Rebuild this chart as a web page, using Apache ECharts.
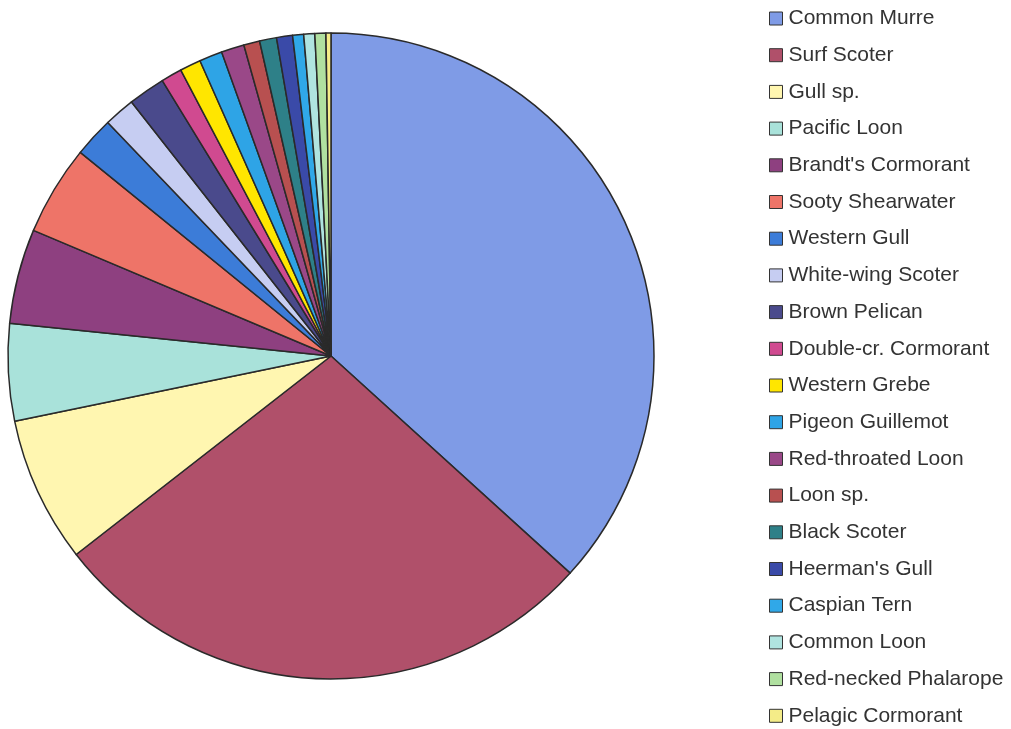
<!DOCTYPE html>
<html>
<head>
<meta charset="utf-8">
<script src="https://cdn.jsdelivr.net/npm/echarts@6/dist/echarts.min.js"></script>
<style>
  html, body { margin: 0; padding: 0; background: #fff; }
  #chart { width: 1011px; height: 729px; }
</style>
</head>
<body>
<div id="chart"></div>
<script>
// species and their shares of the pie (percent)
var species = ['Common Murre', 'Surf Scoter', 'Gull sp.', 'Pacific Loon', "Brandt's Cormorant",
  'Sooty Shearwater', 'Western Gull', 'White-wing Scoter', 'Brown Pelican', 'Double-cr. Cormorant',
  'Western Grebe', 'Pigeon Guillemot', 'Red-throated Loon', 'Loon sp.', 'Black Scoter',
  "Heerman's Gull", 'Caspian Tern', 'Common Loon', 'Red-necked Phalarope', 'Pelagic Cormorant']
var shares = [36.75, 27.75, 7.3, 4.85, 4.75,
  4.5, 2.0, 1.55, 1.85, 1.05,
  1.05, 1.15, 1.15, 0.8, 0.85,
  0.8, 0.55, 0.55, 0.55, 0.25]
var colors = ['#7f9be6', '#b0506a', '#fff6b0', '#a9e2da', '#8e4080',
  '#ee7468', '#3c7cd8', '#c6cdf2', '#4a4a8c', '#d04a90',
  '#ffe600', '#2ea4e6', '#9a4888', '#b85050', '#2e8088',
  '#3a4aa8', '#30a8e8', '#b0e4e0', '#b0e0a0', '#f4ec88']

var chart = echarts.init(document.getElementById('chart'))

var pieData = species.map(function (name, i) {
  return { name: name, value: shares[i] }
})

chart.setOption({
  animation: false,
  backgroundColor: '#fff',
  color: colors,
  legend: {
    orient: 'vertical',
    left: 769,
    top: 8,
    padding: 0,
    itemWidth: 13,
    itemHeight: 13,
    itemGap: 15.7,
    icon: 'rect',
    itemStyle: {
      borderColor: '#333',
      borderWidth: 1
    },
    textStyle: {
      fontFamily: 'Liberation Sans, Arial, sans-serif',
      fontSize: 21,
      lineHeight: 21,
      color: '#333',
      padding: [0, 0, 0, 1]
    },
    data: species
  },
  series: [
    {
      type: 'pie',
      center: [331, 356],
      radius: 323,
      startAngle: 90,
      clockwise: true,
      label: { show: false },
      labelLine: { show: false },
      emphasis: { disabled: true },
      itemStyle: {
        borderColor: '#2a2a2a',
        borderWidth: 1.5
      },
      data: pieData
    }
  ]
})
</script>
</body>
</html>
